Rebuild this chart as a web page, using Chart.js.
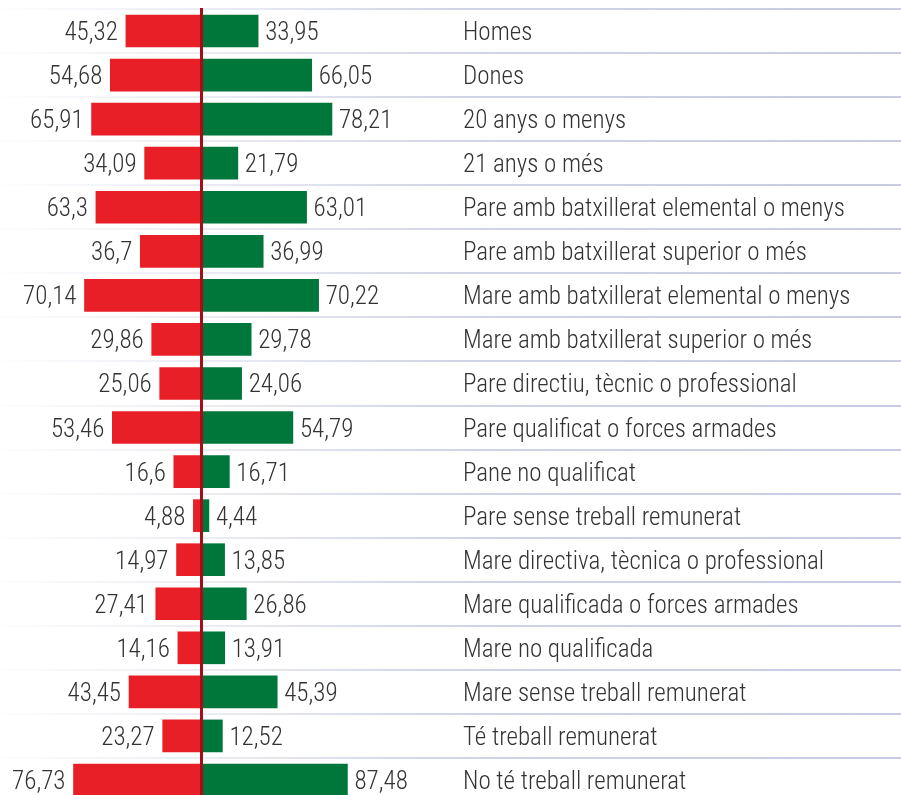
<!DOCTYPE html>
<html>
<head>
<meta charset="utf-8">
<script src="https://cdn.jsdelivr.net/npm/chart.js@4/dist/chart.umd.min.js"></script>
<style>
  html, body { margin: 0; padding: 0; background: #ffffff; overflow: hidden; }
  #wrap { position: relative; width: 901px; height: 802px; }
</style>
</head>
<body>
<div id="wrap"><canvas id="c" width="901" height="802"></canvas></div>
<script>
const categories = [
  "Homes",
  "Dones",
  "20 anys o menys",
  "21 anys o més",
  "Pare amb batxillerat elemental o menys",
  "Pare amb batxillerat superior o més",
  "Mare amb batxillerat elemental o menys",
  "Mare amb batxillerat superior o més",
  "Pare directiu, tècnic o professional",
  "Pare qualificat o forces armades",
  "Pane no qualificat",
  "Pare sense treball remunerat",
  "Mare directiva, tècnica o professional",
  "Mare qualificada o forces armades",
  "Mare no qualificada",
  "Mare sense treball remunerat",
  "Té treball remunerat",
  "No té treball remunerat"
];
const redValues = [45.32, 54.68, 65.91, 34.09, 63.3, 36.7, 70.14, 29.86, 25.06, 53.46, 16.6, 4.88, 14.97, 27.41, 14.16, 43.45, 23.27, 76.73];
const greenValues = [33.95, 66.05, 78.21, 21.79, 63.01, 36.99, 70.22, 29.78, 24.06, 54.79, 16.71, 4.44, 13.85, 26.86, 13.91, 45.39, 12.52, 87.48];

const RED = "#e81f27";
const GREEN = "#00773a";
const AXIS_RED = "#a50d17";
const TEXT = "#333333";

// choose a condensed font, and compute a horizontal squeeze so text width matches
const FONT_SIZE = 25;
const FAMILY = '"Liberation Sans Narrow", "Arial Narrow", "Roboto Condensed", Roboto, sans-serif';
const FONT = "300 " + FONT_SIZE + "px " + FAMILY;
const probe = document.createElement("canvas").getContext("2d");
probe.font = FONT;
const squeeze = Math.min(1, 390 / probe.measureText("Mare amb batxillerat elemental o menys").width);

function fmt(v) { return String(v).replace(".", ","); }

function drawText(ctx, text, x, y, align) {
  ctx.save();
  ctx.translate(x, y);
  ctx.scale(squeeze, 1);
  ctx.textAlign = align;
  ctx.textBaseline = "alphabetic";
  ctx.fillText(text, 0, 0);
  ctx.restore();
}

let gridGradient = null;
function gridColor(context) {
  const chart = context.chart;
  if (!chart || !chart.ctx) return "#cdd0e4";
  if (!gridGradient) {
    const g = chart.ctx.createLinearGradient(0, 0, 901, 0);
    g.addColorStop(0, "rgba(205,208,228,0.03)");
    g.addColorStop(0.2, "rgba(205,208,228,0.35)");
    g.addColorStop(0.5, "rgba(205,208,228,0.9)");
    g.addColorStop(1, "rgba(200,203,226,1)");
    gridGradient = g;
  }
  return gridGradient;
}

const overlay = {
  id: "overlay",
  afterDatasetsDraw(chart) {
    const { ctx, scales: { x, y } } = chart;
    const x0 = x.getPixelForValue(0);
    // centre line
    ctx.save();
    ctx.strokeStyle = AXIS_RED;
    ctx.lineWidth = 3;
    ctx.beginPath();
    ctx.moveTo(x0, chart.chartArea.top - 1);
    ctx.lineTo(x0, chart.height);
    ctx.stroke();
    ctx.restore();

    ctx.save();
    ctx.font = FONT;
    ctx.fillStyle = TEXT;
    categories.forEach((cat, i) => {
      const yc = y.getPixelForValue(i) + 9;
      const xr = x.getPixelForValue(-redValues[i]);
      const xg = x.getPixelForValue(greenValues[i]);
      drawText(ctx, fmt(redValues[i]), xr - 8, yc, "right");
      drawText(ctx, fmt(greenValues[i]), xg + 7, yc, "left");
      drawText(ctx, cat, 463, yc, "left");
    });
    ctx.restore();
  }
};

const PX_PER_UNIT = 1.668;
const CENTER_PX = 201.5;

new Chart(document.getElementById("c"), {
  type: "bar",
  data: {
    labels: categories,
    datasets: [
      { label: "red", data: redValues.map(v => -v), backgroundColor: RED, barThickness: 32, borderWidth: 0 },
      { label: "green", data: greenValues, backgroundColor: GREEN, barThickness: 32, borderWidth: 0 }
    ]
  },
  options: {
    indexAxis: "y",
    responsive: false,
    animation: false,
    layout: { padding: { top: 9, left: 0, right: 0, bottom: 0 } },
    plugins: { legend: { display: false }, tooltip: { enabled: false } },
    scales: {
      x: {
        display: false,
        stacked: true,
        min: -CENTER_PX / PX_PER_UNIT,
        max: (901 - CENTER_PX) / PX_PER_UNIT
      },
      y: {
        display: true,
        stacked: true,
        offset: true,
        ticks: { display: false },
        border: { display: false },
        grid: { offset: true, drawTicks: false, lineWidth: 2, color: gridColor }
      }
    }
  },
  plugins: [overlay]
});
</script>
</body>
</html>
